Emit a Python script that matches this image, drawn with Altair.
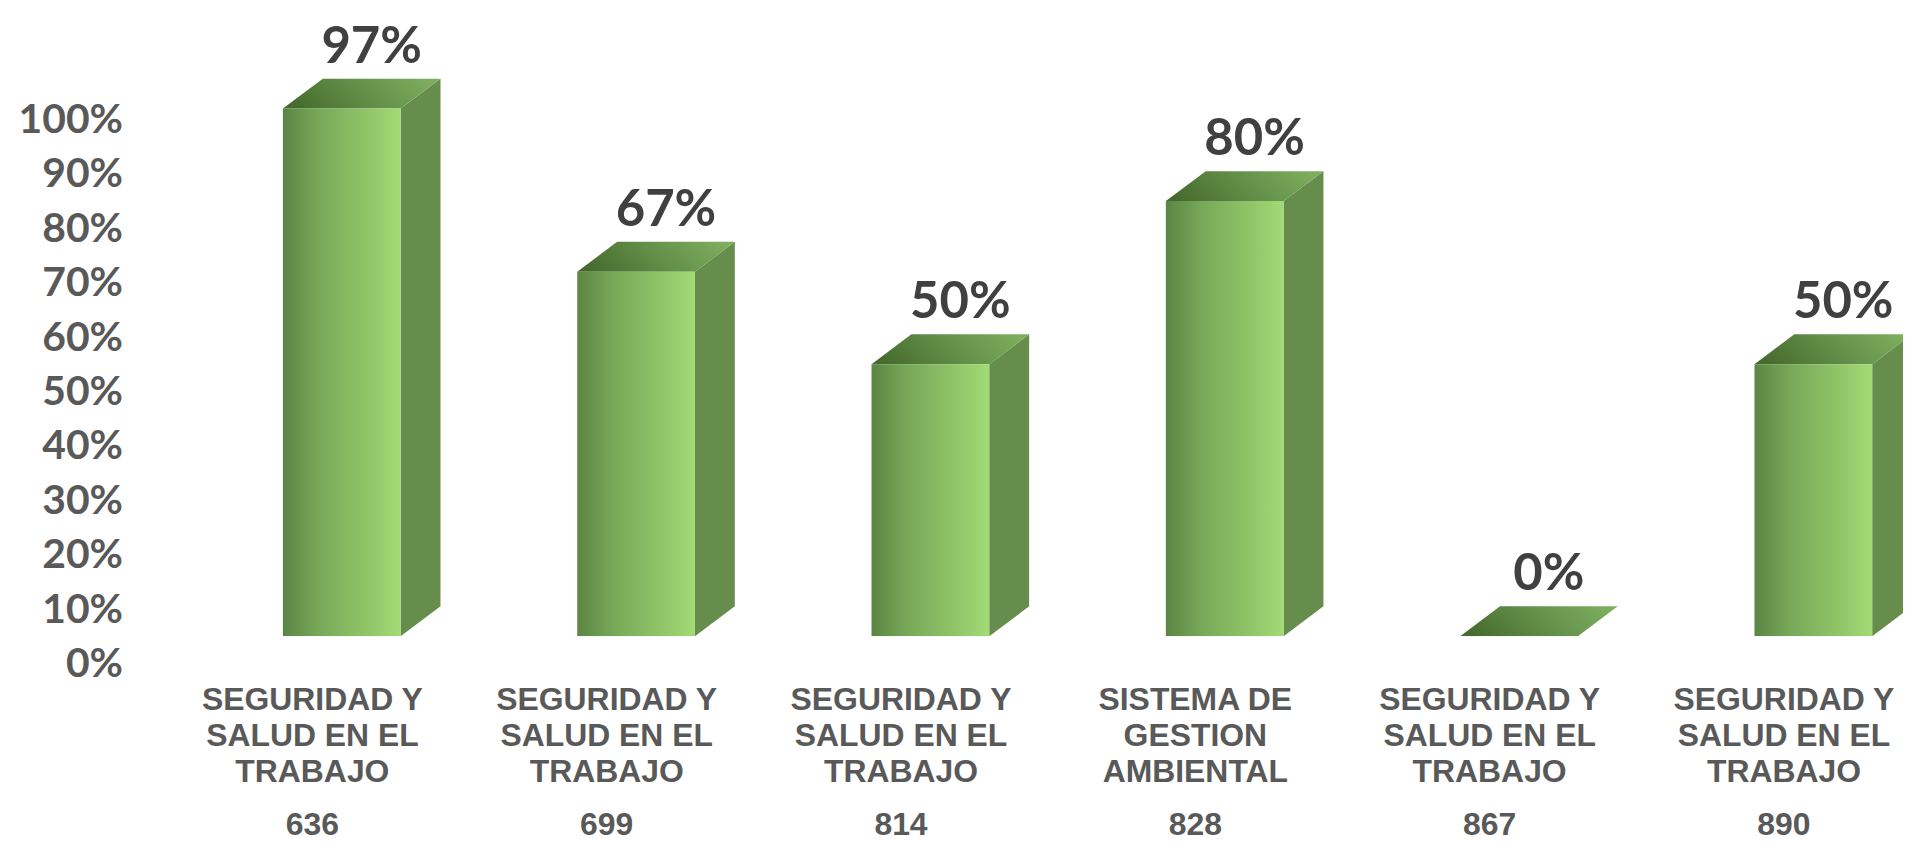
import json
import altair as alt
import pandas as pd

# ---------------- data ----------------
codes = ["636", "699", "814", "828", "867", "890"]
line1 = ["SEGURIDAD Y", "SEGURIDAD Y", "SEGURIDAD Y", "SISTEMA DE", "SEGURIDAD Y", "SEGURIDAD Y"]
line2 = ["SALUD EN EL", "SALUD EN EL", "SALUD EN EL", "GESTION", "SALUD EN EL", "SALUD EN EL"]
line3 = ["TRABAJO", "TRABAJO", "TRABAJO", "AMBIENTAL", "TRABAJO", "TRABAJO"]
values = [0.97, 0.67, 0.50, 0.80, 0.00, 0.50]
value_labels = ["97%", "67%", "50%", "80%", "0%", "50%"]
y_ticks = [0.0, 0.1, 0.2, 0.3, 0.4, 0.5, 0.6, 0.7, 0.8, 0.9, 1.0]

# ---------------- style / geometry constants ----------------
PLOT_W, PLOT_H = 1780, 629
STEP_PX = 295.4          # pixels per category step
Y_PX = 546.0             # pixels per 100 %
HALF = 0.2               # half width of a bar's front face (in steps)
DX = 40 / STEP_PX        # 3-D depth, horizontal (in steps)
DY = 30 / Y_PX           # 3-D depth, vertical (in value units)
XMIN = -213 / STEP_PX
XMAX = XMIN + PLOT_W / STEP_PX
YMAX = PLOT_H / Y_PX

idx = list(range(len(values)))

front = pd.DataFrame({
    "i": idx,
    "x": [i - HALF for i in idx],
    "x2": [i + HALF for i in idx],
    "v": values,
    "z": [0.0] * len(values),
})

side_rows = []
top_rows = []
for i, v in zip(idx, values):
    if v > 0:
        side_rows.append({"i": i, "x": i + HALF, "y": v, "y2": 0.0})
        side_rows.append({"i": i, "x": i + HALF + DX, "y": v + DY, "y2": DY})
    top_rows.append({"i": i, "y": v, "x": i - HALF, "x2": i + HALF})
    top_rows.append({"i": i, "y": v + DY, "x": i - HALF + DX, "x2": i + HALF + DX})
side = pd.DataFrame(side_rows)
top = pd.DataFrame(top_rows)

labels = pd.DataFrame({"i": idx, "v": values, "lab": value_labels})

xscale = alt.Scale(domain=[XMIN, XMAX], nice=False, zero=False)
yscale = alt.Scale(domain=[0, YMAX], nice=False, zero=False)

cat_lines = [[a, b, c] for a, b, c in zip(line1, line2, line3)]
cat_expr = json.dumps(cat_lines, ensure_ascii=False) + "[round(datum.value)]"
code_expr = json.dumps(codes) + "[round(datum.value)]"

GREY = "#595959"

front_grad = alt.Gradient(
    gradient="linear", x1=0, x2=1, y1=0, y2=0,
    stops=[
        alt.GradientStop(color="#5a8543", offset=0),
        alt.GradientStop(color="#77a858", offset=0.3),
        alt.GradientStop(color="#8fc467", offset=0.7),
        alt.GradientStop(color="#a2db76", offset=1),
    ],
)
top_grad = alt.Gradient(
    gradient="linear", x1=0, x2=1, y1=0.6, y2=0.4,
    stops=[
        alt.GradientStop(color="#466a2e", offset=0),
        alt.GradientStop(color="#65924b", offset=0.55),
        alt.GradientStop(color="#7dad5d", offset=1),
    ],
)

side_layer = alt.Chart(side).mark_area(orient="vertical", color="#668d4b", clip=True).encode(
    x=alt.X("x:Q", scale=xscale, axis=None),
    y=alt.Y("y:Q", scale=yscale, axis=None),
    y2="y2:Q",
    detail="i:N",
)

top_layer = alt.Chart(top).mark_area(orient="horizontal", color=top_grad, clip=True).encode(
    y=alt.Y("y:Q", scale=yscale, axis=None),
    x=alt.X("x:Q", scale=xscale, axis=None),
    x2="x2:Q",
    detail="i:N",
)

front_layer = alt.Chart(front).mark_bar(color=front_grad, clip=True).encode(
    x=alt.X(
        "x:Q", scale=xscale,
        axis=alt.Axis(
            orient="bottom", title=None, values=idx, labelExpr=cat_expr,
            grid=False, ticks=False, domain=False,
            labelFont="Arial, Liberation Sans", labelFontWeight="bold",
            labelFontSize=32, labelColor=GREY, labelLineHeight=36,
            labelPadding=49, labelOffset=-30, labelFlush=False,
            labelOverlap=False, labelBaseline="top", labelAlign="center",
            labelLimit=1000,
        ),
    ),
    x2="x2:Q",
    y=alt.Y(
        "v:Q", scale=yscale,
        axis=alt.Axis(
            orient="left", title=None, values=y_ticks, format=".0%",
            grid=False, ticks=False, domain=False,
            labelFont="Century Gothic, Lato", labelFontWeight="bold",
            labelFontSize=41, labelColor=GREY, labelPadding=7,
            labelOffset=28.5, labelFlush=False, labelOverlap=False,
            labelLimit=1000,
        ),
    ),
    y2="z:Q",
)

text_layer = alt.Chart(labels).mark_text(
    font="Century Gothic, Lato", fontWeight="bold", fontSize=51,
    color="#404040", dx=30, dy=-46, baseline="alphabetic", align="center",
).encode(
    x=alt.X(
        "i:Q", scale=xscale,
        axis=alt.Axis(
            orient="bottom", title=None, values=idx, labelExpr=code_expr,
            grid=False, ticks=False, domain=False,
            labelFont="Arial, Liberation Sans", labelFontWeight="bold",
            labelFontSize=32, labelColor=GREY,
            labelPadding=174, labelOffset=-30, labelFlush=False,
            labelOverlap=False, labelBaseline="top", labelAlign="center",
            labelLimit=1000,
        ),
    ),
    y=alt.Y("v:Q", scale=yscale, axis=None),
    text="lab:N",
)

chart = (
    alt.layer(side_layer, top_layer, front_layer, text_layer)
    .resolve_axis(x="independent", y="independent")
    .properties(
        width=PLOT_W, height=PLOT_H,
        padding={"left": 122, "top": 0, "right": 0, "bottom": 206},
        autosize=alt.AutoSizeParams(type="none"),
        background="white",
    )
    .configure_view(stroke=None)
)

chart.save("out.html", embed_options={"renderer": "svg", "actions": False})
